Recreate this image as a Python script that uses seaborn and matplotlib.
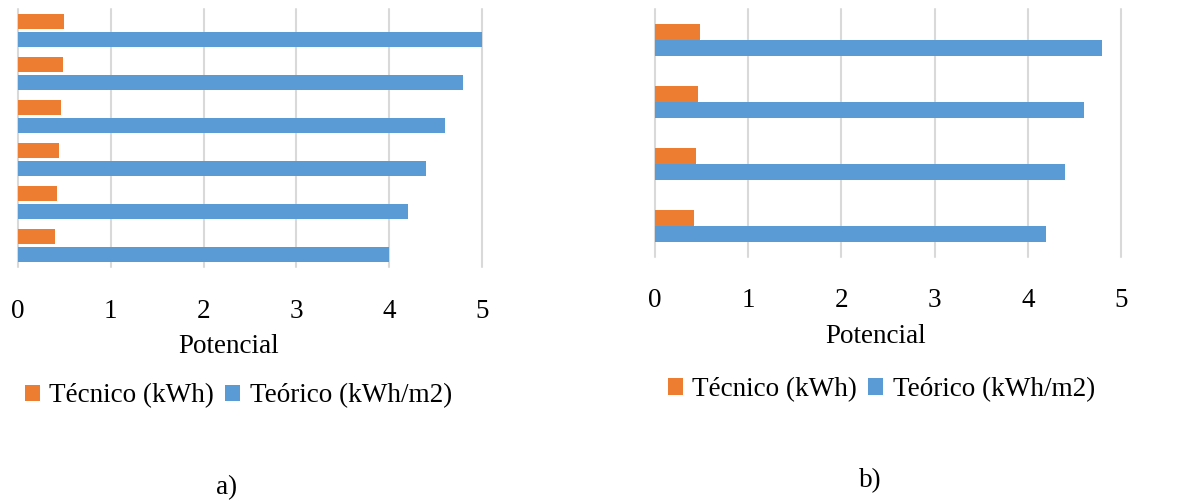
import matplotlib
matplotlib.use("Agg")
import matplotlib.pyplot as plt
import seaborn as sns
import pandas as pd

# Panel a) — six sites
sites_a = ["S1", "S2", "S3", "S4", "S5", "S6"]
tecnico_a = [0.50, 0.48, 0.46, 0.44, 0.42, 0.40]
teorico_a = [5.0, 4.8, 4.6, 4.4, 4.2, 4.0]

# Panel b) — four sites
sites_b = ["S1", "S2", "S3", "S4"]
tecnico_b = [0.48, 0.46, 0.44, 0.42]
teorico_b = [4.8, 4.6, 4.4, 4.2]

series_names = ["Técnico (kWh)", "Teórico (kWh/m2)"]
xticks = [0, 1, 2, 3, 4, 5]

ORANGE = "#ED7D31"
BLUE = "#5B9BD5"
GRID = "#D9D9D9"
FONT = "Liberation Serif"
FS = 19.5


def long_table(sites, tec, teo):
    return pd.DataFrame({
        "site": sites + sites,
        "value": tec + teo,
        "serie": [series_names[0]] * len(sites) + [series_names[1]] * len(sites),
    })


sns.set_theme(style="white")
plt.rcParams["font.family"] = [FONT, "DejaVu Sans"]
plt.rcParams["text.color"] = "black"
plt.rcParams["axes.labelcolor"] = "black"

W, H = 1178, 501
fig = plt.figure(figsize=(W / 100, H / 100), dpi=100)


def px_axes(x0, x1, y0, y1):
    return fig.add_axes([x0 / W, 1 - y1 / H, (x1 - x0) / W, (y1 - y0) / H])


def draw_panel(ax, df, n, width, gap, tickpad, xlabel_pos, legend_pos):
    sns.barplot(data=df, x="value", y="site", hue="serie", orient="h",
                palette=[ORANGE, BLUE], hue_order=series_names,
                width=width, gap=gap, ax=ax, saturation=1, errorbar=None,
                linewidth=0)
    ax.set_xlim(0, 5)
    ax.set_ylim(n - 0.5, -0.5)
    ax.set_xticks(xticks)
    ax.set_xticklabels([str(t) for t in xticks], fontsize=FS, family=FONT)
    ax.tick_params(axis="x", length=0, pad=tickpad, colors="black")
    ax.set_yticks([])
    ax.set_ylabel("")
    for s in ax.spines.values():
        s.set_visible(False)
    ax.set_axisbelow(True)
    ax.xaxis.grid(True, color=GRID, linewidth=1.5)
    for gl in ax.get_xgridlines():
        gl.set_clip_on(False)
    ax.set_xlabel("Potencial", fontsize=FS, family=FONT, va="center",
                  color="black")
    ax.xaxis.set_label_coords(*xlabel_pos)
    handles, labels = ax.get_legend_handles_labels()
    ax.legend(handles, labels, loc="center", bbox_to_anchor=legend_pos,
              ncol=2, frameon=False, prop={"family": FONT, "size": FS},
              handlelength=0.55, handleheight=0.55, handletextpad=0.35,
              columnspacing=0.4, borderaxespad=0, labelcolor="black")


ax_a = px_axes(18, 482, 9, 267)
draw_panel(ax_a, long_table(sites_a, tecnico_a, teorico_a), len(sites_a),
           width=0.837, gap=0.22, tickpad=23,
           xlabel_pos=(0.454, -0.31), legend_pos=(0.475, -0.50))

ax_b = px_axes(655, 1121, 9, 257)
draw_panel(ax_b, long_table(sites_b, tecnico_b, teorico_b), len(sites_b),
           width=0.516, gap=0.0, tickpad=22,
           xlabel_pos=(0.474, -0.32), legend_pos=(0.486, -0.535))

fig.text(226.7 / W, 1 - 488 / H, "a)", ha="center", va="center",
         fontsize=FS, family=FONT)
fig.text(870 / W, 1 - 481 / H, "b)", ha="center", va="center",
         fontsize=FS, family=FONT)

fig.savefig("out.png", dpi=100, facecolor="white")
